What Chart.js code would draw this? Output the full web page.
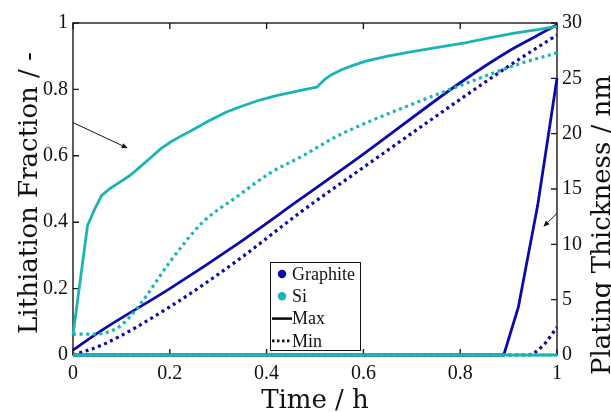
<!DOCTYPE html>
<html>
<head>
<meta charset="utf-8">
<script src="https://cdn.jsdelivr.net/npm/chart.js@4/dist/chart.umd.min.js"></script>
<style>
html,body{margin:0;padding:0;background:#fff;}
canvas{display:block;}
</style>
</head>
<body>
<canvas id="c" width="611" height="412"></canvas>
<script>
// ---- data ----
const timeSiMax = [0, 0.03, 0.045, 0.059, 0.075, 0.096, 0.117, 0.138, 0.165, 0.18, 0.2, 0.22, 0.247, 0.28, 0.317, 0.35, 0.386, 0.42, 0.454, 0.48, 0.504, 0.52, 0.535, 0.556, 0.58, 0.605, 0.65, 0.695, 0.75, 0.81, 0.86, 0.915, 0.96, 1];
const siMax     = [0.06, 0.39, 0.44, 0.48, 0.50, 0.52, 0.54, 0.566, 0.60, 0.62, 0.64, 0.657, 0.678, 0.705, 0.732, 0.75, 0.768, 0.781, 0.792, 0.80, 0.807, 0.83, 0.845, 0.86, 0.873, 0.885, 0.90, 0.912, 0.926, 0.94, 0.955, 0.97, 0.98, 0.99];
const timeSiMin = [0, 0.04, 0.07, 0.1, 0.14, 0.2, 0.268, 0.338, 0.407, 0.475, 0.54, 0.607, 0.7, 0.815, 0.918, 1];
const siMin     = [0.063, 0.063, 0.068, 0.09, 0.155, 0.28, 0.40, 0.476, 0.548, 0.60, 0.655, 0.70, 0.755, 0.82, 0.875, 0.91];
const timeGrMax = [0, 0.06, 0.2, 0.34, 0.47, 0.6, 0.8, 0.9, 0.95, 1];
const grMax     = [0.015, 0.075, 0.2, 0.335, 0.47, 0.605, 0.82, 0.915, 0.955, 0.995];
const timeGrMin = [0, 0.06, 0.2, 0.34, 0.47, 0.6, 0.8, 0.9, 1];
const grMin     = [0, 0.03, 0.145, 0.285, 0.43, 0.565, 0.77, 0.87, 0.964];
// plating thickness (nm, right axis)
const timeGrPlatMax = [0, 0.89, 0.92, 0.96, 1];
const grPlatMax     = [0, 0, 4.3, 13.5, 25];
const timeGrPlatMin = [0, 0.94, 0.97, 1];
const grPlatMin     = [0, 0, 0.8, 2.5];
const timeSiPlat = [0, 1];
const siPlatMax  = [0, 0];
const siPlatMin  = [0, 0];
// ticks / labels
const xTicks  = [0, 0.2, 0.4, 0.6, 0.8, 1];
const yTicks  = [0, 0.2, 0.4, 0.6, 0.8, 1];
const y2Ticks = [0, 5, 10, 15, 20, 25, 30];
const legendLabels = ['Graphite', 'Si', 'Max', 'Min'];
const xTitle = 'Time / h';
const yTitle = 'Lithiation Fraction / -';
const y2Title = 'Plating Thickness / nm';
// arrows in data coordinates: [x0, y0, x1, y1]
const arrowLeft  = [0, 0.70, 0.113, 0.623];
const arrowRight = [1.0, 12.8, 0.972, 11.6];

const TEAL = '#1bb4b4';
const BLUE = '#0b0ba8';
const TITLE_FONT = '"DejaVu Serif", "Liberation Serif", serif';
const TEXT_FONT = '"Liberation Serif", "DejaVu Serif", serif';

const pts = (t, v) => t.map((x, i) => ({x: x, y: v[i]}));

function ds(t, v, color, dashed, axis, order, smooth) {
  return {
    data: pts(t, v), borderColor: color, backgroundColor: color,
    borderWidth: dashed ? 3.2 : 2.8, borderDash: dashed ? [3, 3.6] : [],
    pointRadius: 0, yAxisID: axis, order: order, clip: false,
    tension: smooth ? 0.35 : 0, cubicInterpolationMode: smooth ? 'monotone' : 'default',
    borderCapStyle: 'butt', borderJoinStyle: 'round'
  };
}

const framePlugin = {
  id: 'frame',
  beforeDatasetsDraw(chart) {
    const {ctx, chartArea: a, scales: {x, y, y2}} = chart;
    ctx.save();
    ctx.strokeStyle = '#1a1a1a';
    ctx.lineWidth = 1.4;
    ctx.strokeRect(a.left, a.top, a.right - a.left, a.bottom - a.top);
    const L = 6;
    ctx.beginPath();
    xTicks.forEach(v => {
      const p = x.getPixelForValue(v);
      ctx.moveTo(p, a.bottom); ctx.lineTo(p, a.bottom - L);
      ctx.moveTo(p, a.top); ctx.lineTo(p, a.top + L);
    });
    yTicks.forEach(v => {
      const p = y.getPixelForValue(v);
      ctx.moveTo(a.left, p); ctx.lineTo(a.left + L, p);
    });
    y2Ticks.forEach(v => {
      const p = y2.getPixelForValue(v);
      ctx.moveTo(a.right, p); ctx.lineTo(a.right - L, p);
    });
    ctx.stroke();
    ctx.restore();
  },
  afterDatasetsDraw(chart) {
    const {ctx, scales: {x, y, y2}} = chart;
    function arrow(arr, ys) {
      const x0 = x.getPixelForValue(arr[0]), y0 = ys.getPixelForValue(arr[1]);
      const x1 = x.getPixelForValue(arr[2]), y1 = ys.getPixelForValue(arr[3]);
      const ang = Math.atan2(y1 - y0, x1 - x0);
      const h = 6, w = 2.6;
      ctx.save();
      ctx.strokeStyle = '#111'; ctx.fillStyle = '#111'; ctx.lineWidth = 1;
      ctx.beginPath(); ctx.moveTo(x0, y0);
      ctx.lineTo(x1 - h * Math.cos(ang), y1 - h * Math.sin(ang)); ctx.stroke();
      ctx.beginPath();
      ctx.moveTo(x1, y1);
      ctx.lineTo(x1 - h * Math.cos(ang) + w * Math.sin(ang), y1 - h * Math.sin(ang) - w * Math.cos(ang));
      ctx.lineTo(x1 - h * Math.cos(ang) - w * Math.sin(ang), y1 - h * Math.sin(ang) + w * Math.cos(ang));
      ctx.closePath(); ctx.fill();
      ctx.restore();
    }
    arrow(arrowLeft, y);
    arrow(arrowRight, y2);
  },
  afterDraw(chart) {
    const {ctx, chartArea: a} = chart;
    ctx.save();
    // legend
    const lx = a.left + 197, ly = a.top + 239, lw = 90, lh = 88;
    ctx.fillStyle = '#fff';
    ctx.fillRect(lx, ly, lw, lh);
    ctx.strokeStyle = '#111'; ctx.lineWidth = 1;
    ctx.strokeRect(lx + 0.5, ly + 0.5, lw, lh);
    ctx.font = '18px ' + TEXT_FONT;
    ctx.textBaseline = 'middle';
    const rowY = i => ly + 12 + i * 22.3;
    legendLabels.forEach((lab, i) => {
      const cy = rowY(i);
      if (i < 2) {
        ctx.fillStyle = i === 0 ? BLUE : TEAL;
        ctx.beginPath(); ctx.arc(lx + 12, cy, 4.2, 0, Math.PI * 2); ctx.fill();
      } else {
        ctx.strokeStyle = '#111'; ctx.lineWidth = 2.6;
        ctx.setLineDash(i === 3 ? [2.5, 2.5] : []);
        ctx.beginPath(); ctx.moveTo(lx + 2, cy); ctx.lineTo(lx + 22, cy); ctx.stroke();
        ctx.setLineDash([]);
      }
      ctx.fillStyle = '#111';
      ctx.textAlign = 'left';
      ctx.fillText(lab, lx + 22, cy + 1);
    });
    // axis titles
    ctx.fillStyle = '#111';
    ctx.font = '26px ' + TITLE_FONT;
    ctx.textAlign = 'center';
    ctx.textBaseline = 'alphabetic';
    ctx.fillText(xTitle, (a.left + a.right) / 2, 408);
    ctx.save();
    ctx.translate(37, 193);
    ctx.rotate(-Math.PI / 2);
    ctx.fillText(yTitle, 0, 0);
    ctx.restore();
    ctx.save();
    ctx.translate(610, 225);
    ctx.rotate(-Math.PI / 2);
    ctx.fillText(y2Title, 0, 0);
    ctx.restore();
    ctx.restore();
  }
};

const tickFont = {family: TEXT_FONT, size: 20};
const fmt = v => String(Math.round(v * 10) / 10);

new Chart(document.getElementById('c'), {
  type: 'line',
  data: {
    datasets: [
      ds(timeSiPlat, siPlatMax, TEAL, false, 'y2', 0, false),
      ds(timeSiPlat, siPlatMin, TEAL, true, 'y2', 1, false),
      ds(timeSiMax, siMax, TEAL, false, 'y', 2, false),
      ds(timeSiMin, siMin, TEAL, true, 'y', 3, true),
      ds(timeGrMax, grMax, BLUE, false, 'y', 4, true),
      ds(timeGrMin, grMin, BLUE, true, 'y', 5, true),
      ds(timeGrPlatMax, grPlatMax, BLUE, false, 'y2', 6, false),
      ds(timeGrPlatMin, grPlatMin, BLUE, true, 'y2', 7, true)
    ]
  },
  options: {
    responsive: false,
    animation: false,
    devicePixelRatio: 1,
    layout: {padding: {top: 23, left: 0, right: 0, bottom: 0}},
    plugins: {legend: {display: false}, tooltip: {enabled: false}},
    scales: {
      x: {
        type: 'linear', position: 'bottom', min: 0, max: 1,
        grid: {display: false, drawTicks: false}, border: {display: false},
        ticks: {stepSize: 0.2, font: tickFont, color: '#111', padding: 7, maxRotation: 0, callback: fmt},
        afterFit: s => { s.height = 57; }
      },
      y: {
        type: 'linear', position: 'left', min: 0, max: 1,
        grid: {display: false, drawTicks: false}, border: {display: false},
        ticks: {stepSize: 0.2, font: tickFont, color: '#111', padding: 5, callback: fmt},
        afterFit: s => { s.width = 73; }
      },
      y2: {
        type: 'linear', position: 'right', min: 0, max: 30,
        grid: {display: false, drawTicks: false}, border: {display: false},
        ticks: {stepSize: 5, font: tickFont, color: '#111', padding: 5},
        afterFit: s => { s.width = 54; }
      }
    }
  },
  plugins: [framePlugin]
});
</script>
</body>
</html>
